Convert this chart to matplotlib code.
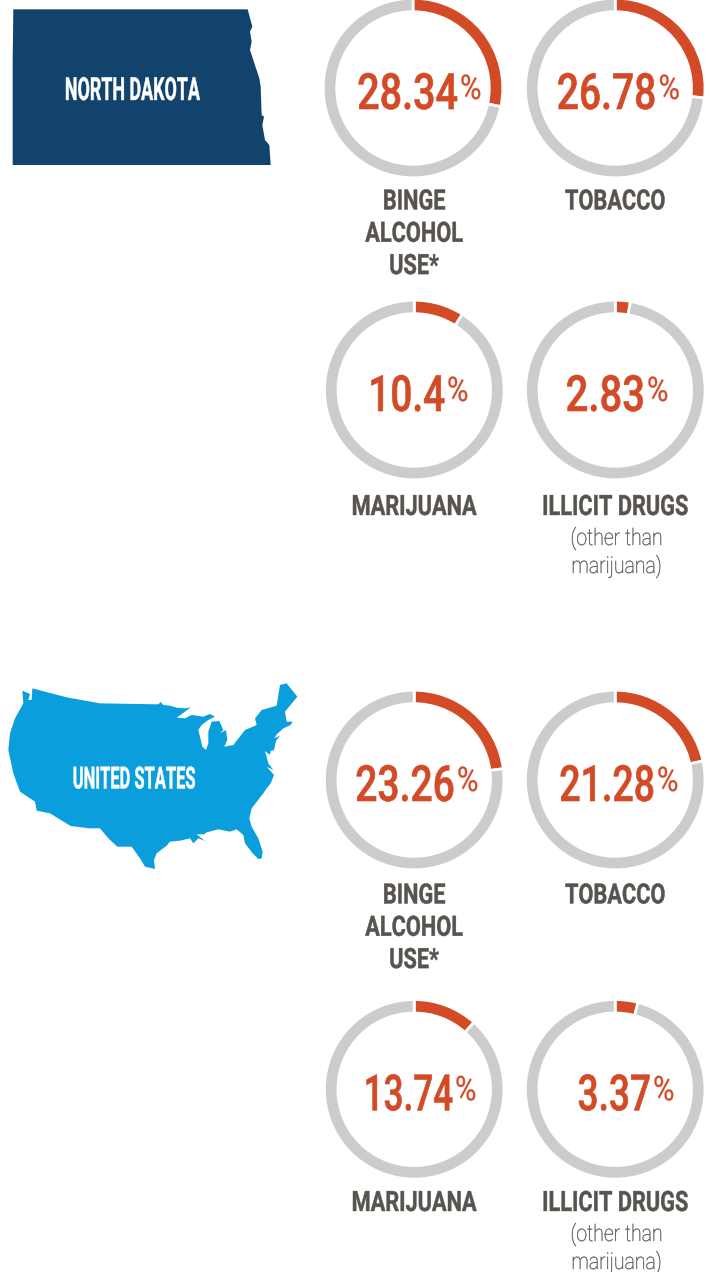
import matplotlib
matplotlib.use("Agg")
import matplotlib.pyplot as plt
from matplotlib.patches import Polygon
from matplotlib.patheffects import AbstractPathEffect
from matplotlib.transforms import Affine2D, Bbox

W, H = 710, 1272

ND_ARCS = [28.34, 26.78, 9.0, 2.7]
US_ARCS = [23.0, 21.6, 11.6, 4.1]
ND_TEXT = ["28.34", "26.78", "10.4", "2.83"]
US_TEXT = ["23.26", "21.28", "13.74", "3.37"]
CATEGORIES = [["BINGE", "ALCOHOL", "USE*"], ["TOBACCO"], ["MARIJUANA"], ["ILLICIT DRUGS"]]
SUBLABEL = ["(other than", "marijuana)"]
REGIONS = ["NORTH DAKOTA", "UNITED STATES"]

RED, GREY, DARK = "#d34a27", "#cccccc", "#57534e"
NAVY, BLUE = "#12436d", "#0a9fdc"

ND_ZOOM = [(40,28),(743,28),(757,80),(750,95),(755,125),(750,150),(778,235),(782,260),(785,345),
           (792,350),(787,375),(795,420),(808,435),(812,495),(38,495),(38,180)]
US_WEST = [(67,62),(90,72),(85,90),(95,90),(97,55),(200,82),(300,100),(475,103),(482,96),(490,105)]
US_NE = [(0,92),(20,98),(45,100),(62,97),(45,110),(20,128),(45,130),(65,120),(100,125),(120,117),(135,125),
         (115,135),(95,150),(85,165),(90,185),(97,215),(108,225),(115,205),(115,170),(125,140),(148,138),
         (160,165),(150,175),(168,165),(172,195),(163,215),(190,210),(225,165),(260,150),(255,130),(275,105),
         (320,92),(330,30),(350,25),(382,65),(345,110),(350,140),(368,140),(362,150),(340,160),(320,178),
         (313,190),(330,182),(318,198),(312,225),(302,228),(300,240),(285,228),(295,265),(310,285)]
US_MID = [(800,290),(822,315),(812,340),(800,355)]
US_SE = [(400,55),(365,100),(358,130),(365,155),(385,190),(398,230),(395,250),(385,252),(368,235),(345,205),
         (340,180),(320,163),(300,170),(265,163),(230,172),(222,178),(200,178),(225,198),(205,190),(190,205),
         (180,190),(150,197),(120,200),(110,212),(80,235),(72,255),(75,282),(45,275),(30,250),(5,215)]
US_SW = [(352,530),(325,505),(300,475),(268,475),(212,468),(150,430),(110,422),(105,395),(60,365),(40,310),
         (25,240),(30,190),(45,145),(70,100)]
US_ZOOM = (US_WEST + [(x+510, y+15) for x, y in US_NE] + US_MID
           + [(x+390, y+315) for x, y in US_SE] + US_SW)


class Squeeze(AbstractPathEffect):
    """Narrow a text about the pixel column x0 and thicken it (no condensed font is installed)."""
    def __init__(self, s, x0, bold=0.0):
        super().__init__()
        self.s, self.x0, self.bold = s, x0, bold

    def draw_path(self, renderer, gc, tpath, affine, rgbFace=None):
        t = affine + Affine2D().translate(-self.x0, 0).scale(self.s, 1).translate(self.x0, 0)
        gc0 = renderer.new_gc()
        gc0.copy_properties(gc)
        gc0.set_linewidth(self.bold)
        if self.bold and rgbFace is not None:
            gc0.set_foreground(rgbFace)
        renderer.draw_path(gc0, tpath, t, rgbFace)
        gc0.restore()


fig = plt.figure(figsize=(W/100, H/100), dpi=100, facecolor="white")
bg = fig.add_axes([0, 0, 1, 1], zorder=0)
bg.set_xlim(0, W); bg.set_ylim(H, 0); bg.axis("off")
bg.add_patch(Polygon([(x/3, y/3) for x, y in ND_ZOOM], fc=NAVY, ec="none"))
bg.add_patch(Polygon([(x/3, 670 + y/3) for x, y in US_ZOOM], fc=BLUE, ec="none"))

top = fig.add_axes([0, 0, 1, 1], zorder=2)
top.set_xlim(0, W); top.set_ylim(H, 0); top.axis("off")


def stext(x, y, s, squeeze, bold=0.0, ha="center", **kw):
    t = top.text(x, y, s, ha=ha, va="baseline", family="Roboto",
                 path_effects=[Squeeze(squeeze, x, bold)], **kw)
    full = t.get_window_extent

    def narrowed(renderer=None, dpi=None):
        b = full(renderer, dpi)
        return Bbox.from_extents(x + (b.x0 - x) * squeeze, b.y0, x + (b.x1 - x) * squeeze, b.y1)

    t.get_window_extent = narrowed
    return t


stext(132.5, 100, REGIONS[0], 0.56, 0.3, color="white", weight="bold", size=23)
stext(134, 788.5, REGIONS[1], 0.54, 0.3, color="white", weight="bold", size=22)

R = 89.8
def donut(cx, cy, v):
    ax = fig.add_axes([(cx-R)/W, 1-(cy+R)/H, 2*R/W, 2*R/H], zorder=1)
    ax.pie([v, 100-v], colors=[RED, GREY], startangle=90, counterclock=False, radius=1,
           wedgeprops=dict(width=13.5/R, edgecolor="white", linewidth=2))
    ax.set_xlim(-1, 1); ax.set_ylim(-1, 1)
    ax.patch.set_alpha(0)


CX = [[413, 615.2, 414.3, 615.3], [414.2, 615.2, 414.2, 615.2]]
CY = [[88, 88, 390, 390], [780, 780, 1089.3, 1089.3]]
SPLIT = [[458, 656.5, 445, 645], [455, 655, 453, 651]]
NUM_SQUEEZE = [[0.79, 0.78, 0.775, 0.80], [0.78, 0.75, 0.70, 0.74]]
LABEL_BASE = [[209.5, 209.5, 515, 515], [903.5, 903.5, 1211, 1211]]
LABEL_X = [414, 615, 414, 615]

for g, (vals, txts) in enumerate([(ND_ARCS, ND_TEXT), (US_ARCS, US_TEXT)]):
    for i in range(4):
        cy = CY[g][i]
        donut(CX[g][i], cy, vals[i])
        sx = SPLIT[g][i]
        stext(sx, cy + 21, txts[i], NUM_SQUEEZE[g][i], 0.45, ha="right", color=RED, weight="medium", size=36)
        stext(sx + 2, cy + 11, "%", 0.86, 0.2, ha="left", color=RED, size=24.5)
        base = LABEL_BASE[g][i]
        for k, line in enumerate(CATEGORIES[i]):
            stext(LABEL_X[i], base + 32.3 * k, line, 0.775, 0.3, color=DARK, weight="bold", size=20.2)
        if i == 3:
            for k, line in enumerate(SUBLABEL):
                stext(616.5, base + 30 + 28 * k, line, 0.85, 0.25, color=DARK, weight="light", size=16.5)

fig.savefig("out.png", dpi=100)
